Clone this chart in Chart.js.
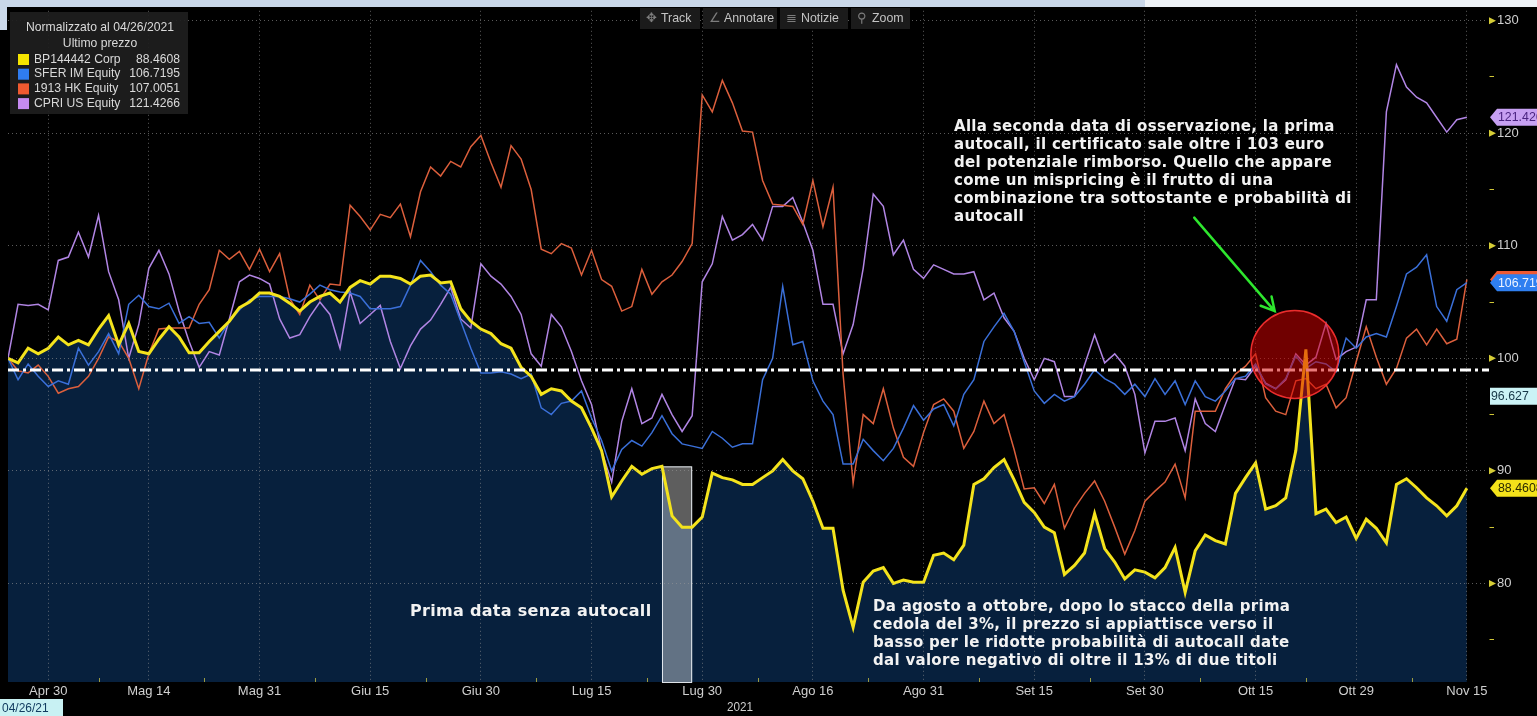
<!DOCTYPE html>
<html lang="it">
<head>
<meta charset="utf-8">
<title>BP144442 Corp e sottostanti - normalizzato al 04/26/2021</title>
<script src="https://cdn.jsdelivr.net/npm/chart.js@4.4.1/dist/chart.umd.min.js"></script>
<style>
  html, body { margin: 0; padding: 0; background: #000; overflow: hidden; }
  canvas { display: block; }
</style>
</head>
<body>
<canvas id="chart" width="1537" height="716"></canvas>
<script>
// Business days from 26 Apr to 15 Nov 2021 (one point per day)
const categories = [];
for (let d = new Date(Date.UTC(2021, 3, 26)); d <= new Date(Date.UTC(2021, 10, 15)); d.setUTCDate(d.getUTCDate() + 1)) {
  const wd = d.getUTCDay();
  if (wd !== 0 && wd !== 6) categories.push(d.toISOString().slice(0, 10));
}

// x axis labels
const tickDates = ['2021-04-30', '2021-05-14', '2021-05-31', '2021-06-15', '2021-06-30', '2021-07-15', '2021-07-30',
  '2021-08-16', '2021-08-31', '2021-09-15', '2021-09-30', '2021-10-15', '2021-10-29', '2021-11-15'];
const tickLabels = ['Apr 30', 'Mag 14', 'Mag 31', 'Giu 15', 'Giu 30', 'Lug 15', 'Lug 30',
  'Ago 16', 'Ago 31', 'Set 15', 'Set 30', 'Ott 15', 'Ott 29', 'Nov 15'];

// Normalized prices (26/04/2021 = 100)
const bp = [100.0, 99.6, 100.9, 100.4, 100.9, 101.9, 101.2, 101.6, 101.2, 102.6,
  103.8, 101.2, 103.1, 100.6, 100.4, 101.7, 102.8, 101.9, 100.5, 100.5,
  101.5, 102.4, 103.3, 104.5, 105.0, 105.8, 105.8, 105.5, 104.9, 104.2,
  105.0, 105.5, 105.8, 105.0, 106.3, 106.9, 106.6, 107.3, 107.3, 107.1,
  106.6, 107.3, 107.4, 106.7, 106.8, 104.4, 103.3, 102.6, 102.2, 101.3,
  100.9, 99.2, 98.4, 96.8, 97.3, 97.1, 96.2, 95.6, 93.8, 91.8,
  87.7, 89.1, 90.4, 89.7, 90.2, 90.4, 86.0, 85.0, 85.0, 85.9,
  89.8, 89.4, 89.2, 88.8, 88.8, 89.4, 90.0, 91.0, 90.0, 89.3,
  87.3, 84.9, 84.9, 79.4, 76.1, 80.1, 81.1, 81.4, 80.0, 80.3,
  80.1, 80.1, 82.5, 82.7, 82.1, 83.4, 88.8, 89.3, 90.3, 91.0,
  89.2, 87.2, 86.3, 85.0, 84.5, 80.8, 81.6, 82.7, 86.2, 83.1,
  81.9, 80.4, 81.2, 81.0, 80.5, 81.4, 83.2, 79.2, 82.9, 84.3,
  83.8, 83.5, 88.0, 89.4, 90.7, 86.6, 86.9, 87.6, 91.8, 100.8,
  86.2, 86.6, 85.4, 85.9, 84.0, 85.7, 84.9, 83.6, 88.8, 89.3,
  88.5, 87.6, 86.9, 86.0, 86.9, 88.4608];
const sfer = [100.0, 98.1, 99.5, 98.4, 97.5, 98.0, 97.7, 100.9, 99.4, 100.6,
  102.2, 100.4, 104.8, 105.6, 104.6, 104.4, 104.9, 103.1, 103.7, 103.1,
  103.2, 101.8, 103.3, 104.3, 105.2, 105.5, 105.5, 105.5, 105.3, 105.0,
  105.7, 106.5, 106.1, 105.9, 105.8, 105.5, 104.4, 104.4, 104.4, 104.6,
  106.5, 108.7, 107.7, 106.5, 105.7, 103.3, 100.9, 98.7, 98.7, 98.8,
  98.6, 98.2, 98.6, 95.6, 95.0, 96.0, 96.2, 97.1, 94.7, 92.7,
  90.0, 91.9, 92.7, 92.2, 93.4, 94.9, 93.3, 92.4, 92.2, 92.0,
  93.5, 92.9, 92.1, 92.4, 92.4, 98.1, 100.0, 106.4, 101.2, 101.5,
  98.0, 96.2, 95.0, 90.6, 90.6, 92.8, 91.8, 90.9, 92.0, 93.8,
  95.8, 94.5, 95.5, 95.9, 94.0, 96.8, 98.1, 101.5, 102.8, 104.0,
  102.4, 99.7, 97.1, 96.0, 96.8, 96.2, 96.6, 97.7, 99.0, 98.2,
  97.7, 96.8, 97.7, 96.6, 98.2, 96.8, 98.0, 95.9, 98.0, 96.6,
  96.2, 97.1, 98.2, 98.4, 99.5, 97.7, 97.3, 98.2, 100.2, 99.1,
  99.7, 99.5, 98.8, 101.8, 100.9, 101.9, 102.2, 101.9, 104.6, 107.5,
  108.1, 109.2, 104.6, 103.3, 106.1, 106.7195];
const hk = [100.0, 98.9, 98.7, 99.4, 98.4, 96.9, 97.3, 97.5, 98.4, 100.0,
  101.9, 101.5, 100.0, 97.3, 100.4, 102.6, 102.7, 102.7, 102.7, 104.8,
  106.1, 109.6, 108.8, 109.5, 107.9, 109.7, 107.7, 109.3, 105.3, 103.9,
  106.5, 105.2, 106.6, 106.5, 113.6, 112.6, 111.4, 112.8, 112.5, 113.7,
  110.8, 114.8, 117.0, 116.2, 117.5, 117.0, 118.8, 119.8, 117.4, 115.2,
  118.9, 117.7, 115.0, 109.7, 109.3, 110.2, 109.8, 107.4, 109.6, 107.0,
  106.4, 104.2, 104.6, 107.9, 105.7, 106.8, 107.4, 108.6, 110.2, 123.4,
  121.9, 124.7, 122.7, 120.2, 120.1, 115.8, 113.7, 113.6, 113.5, 111.9,
  115.8, 111.7, 115.2, 98.6, 88.9, 95.0, 94.2, 97.3, 93.8, 91.2,
  90.4, 93.4, 95.9, 96.4, 95.3, 92.0, 93.5, 96.2, 94.2, 95.0,
  91.9, 88.4, 88.5, 87.1, 88.8, 84.9, 86.7, 88.0, 89.1, 87.3,
  85.0, 82.6, 84.7, 87.3, 88.2, 89.0, 90.6, 87.6, 95.3, 95.3,
  95.3, 97.3, 98.6, 99.3, 100.4, 96.5, 95.3, 95.0, 98.0, 98.2,
  97.3, 97.7, 95.6, 96.5, 99.7, 102.8, 100.1, 97.7, 99.1, 101.8,
  102.6, 101.2, 102.6, 101.3, 101.7, 107.0051];
const cpri = [100.0, 104.8, 104.7, 104.8, 104.3, 108.7, 109.0, 111.2, 109.0, 112.7,
  107.7, 105.2, 100.0, 103.0, 108.0, 109.6, 107.5, 104.2, 101.5, 99.2,
  100.6, 100.3, 103.5, 106.8, 107.4, 107.1, 106.6, 103.5, 101.8, 102.1,
  103.7, 105.0, 103.9, 100.9, 105.9, 103.1, 103.9, 104.7, 101.5, 99.1,
  101.1, 102.6, 103.4, 104.8, 106.3, 103.5, 102.7, 108.4, 107.3, 106.6,
  105.5, 103.9, 100.4, 99.3, 103.9, 102.8, 100.6, 98.0, 95.9, 91.8,
  89.0, 94.4, 97.3, 94.2, 94.7, 96.8, 95.0, 93.5, 94.9, 106.8,
  108.4, 112.6, 110.5, 111.0, 111.9, 110.5, 113.5, 113.5, 114.3, 112.1,
  109.6, 104.8, 104.8, 100.4, 103.0, 108.0, 114.6, 113.5, 109.2, 110.5,
  107.9, 107.1, 108.3, 107.9, 107.5, 107.5, 107.7, 105.2, 105.8, 103.6,
  102.4, 100.0, 98.1, 100.0, 99.7, 96.6, 96.6, 99.4, 102.1, 99.6,
  100.4, 99.3, 96.8, 91.6, 94.4, 94.4, 94.7, 91.8, 96.4, 94.2,
  93.5, 95.9, 98.2, 98.1, 99.3, 97.8, 97.3, 98.1, 100.4, 99.4,
  100.1, 103.1, 99.9, 100.6, 101.0, 105.2, 105.2, 121.9, 126.1, 124.1,
  123.2, 122.7, 121.4, 120.1, 121.2, 121.4266];

// annotation anchors (data units)
const refLevel = 98.94;          // white dash-dot line
const crossValue = 96.627;       // cyan tag on the axis
const gapStart = 65, gapEnd = 68, gapTop = 90.4;   // "Prima data senza autocall"
const circleAt = [127.9, 100.35];
const arrowFrom = [117.9, 112.5], arrowTo = [125.9, 104.2];

const uiFont = '"Liberation Sans", Arial, sans-serif';
const noteFamily = '"DejaVu Sans", Verdana, sans-serif';

const xy = arr => arr.map((v, i) => ({ x: i, y: v }));
const tickIdx = tickDates.map(d => categories.indexOf(d));

// Bloomberg screen font is condensed: squeeze text horizontally
function narrow(ctx, txt, x, y, align, sx) {
  ctx.save();
  ctx.translate(x, y);
  ctx.scale(sx || 0.88, 1);
  ctx.textAlign = align;
  ctx.fillText(txt, 0, 0);
  ctx.restore();
}

const notes = {
  id: 'notes',
  afterDatasetDraw(chart, args) {
    if (args.index !== 0) return;
    // grey box over the fill, under the lines
    const { ctx, scales: { x, y } } = chart;
    const l = x.getPixelForValue(gapStart), r = x.getPixelForValue(gapEnd);
    const t = y.getPixelForValue(gapTop), b = chart.chartArea.bottom;
    ctx.save();
    ctx.fillStyle = 'rgba(255,255,255,0.37)';
    ctx.fillRect(l, t, r - l, b - t);
    ctx.strokeStyle = 'rgba(235,240,245,0.95)';
    ctx.lineWidth = 1;
    ctx.strokeRect(l + 0.5, t + 0.5, r - l - 1, b - t);
    ctx.restore();
  },
  afterDraw(chart) {
    const { ctx, chartArea: ca, scales: { x, y } } = chart;
    ctx.save();

    // left margin stays black
    ctx.fillStyle = '#000';
    ctx.fillRect(0, 0, ca.left, 699);

    // minor ticks on the time axis
    ctx.strokeStyle = '#9c9c42';
    ctx.lineWidth = 1;
    for (let k = 0; k < tickIdx.length - 1; k++) {
      const px = Math.round(x.getPixelForValue((tickIdx[k] + tickIdx[k + 1]) / 2)) + 0.5;
      ctx.beginPath(); ctx.moveTo(px, ca.bottom - 4); ctx.lineTo(px, ca.bottom); ctx.stroke();
    }

    // dash-dot reference line
    const ry = Math.round(y.getPixelForValue(refLevel));
    ctx.strokeStyle = '#ffffff';
    ctx.lineWidth = 3;
    ctx.setLineDash([11, 4, 3, 4]);
    ctx.beginPath(); ctx.moveTo(ca.left, ry); ctx.lineTo(ca.right, ry); ctx.stroke();
    ctx.setLineDash([]);

    // red circle
    const cx = x.getPixelForValue(circleAt[0]), cy = y.getPixelForValue(circleAt[1]);
    ctx.beginPath(); ctx.arc(cx, cy, 44, 0, Math.PI * 2);
    ctx.fillStyle = 'rgba(215,0,0,0.52)';
    ctx.fill();
    ctx.strokeStyle = 'rgba(255,50,50,0.9)';
    ctx.lineWidth = 1.5;
    ctx.stroke();

    // green arrow
    const ax0 = x.getPixelForValue(arrowFrom[0]), ay0 = y.getPixelForValue(arrowFrom[1]);
    const ax1 = x.getPixelForValue(arrowTo[0]), ay1 = y.getPixelForValue(arrowTo[1]);
    const ang = Math.atan2(ay1 - ay0, ax1 - ax0);
    ctx.strokeStyle = '#2ee62e';
    ctx.lineWidth = 2.5;
    ctx.lineCap = 'round';
    ctx.beginPath(); ctx.moveTo(ax0, ay0); ctx.lineTo(ax1, ay1);
    ctx.moveTo(ax1 - 15 * Math.cos(ang - 0.5), ay1 - 15 * Math.sin(ang - 0.5)); ctx.lineTo(ax1, ay1);
    ctx.lineTo(ax1 - 15 * Math.cos(ang + 0.5), ay1 - 15 * Math.sin(ang + 0.5));
    ctx.stroke();
    ctx.lineCap = 'butt';

    // annotation texts
    ctx.fillStyle = '#f2f2f2';
    ctx.textBaseline = 'middle';
    ctx.textAlign = 'left';
    ctx.letterSpacing = '0.3px';
    const block = (lines, x0, y0, size) => {
      ctx.font = 'bold ' + size + 'px ' + noteFamily;
      lines.forEach((s, i) => ctx.fillText(s, x0, y0 + i * 18));
    };
    block(['Alla seconda data di osservazione, la prima',
      'autocall, il certificato sale oltre i 103 euro',
      'del potenziale rimborso. Quello che appare',
      'come un mispricing è il frutto di una',
      'combinazione tra sottostante e probabilità di',
      'autocall'], 954, 127, 15);
    block(['Prima data senza autocall'], 410, 612, 16);
    block(['Da agosto a ottobre, dopo lo stacco della prima',
      'cedola del 3%, il prezzo si appiattisce verso il',
      'basso per le ridotte probabilità di autocall date',
      'dal valore negativo di oltre il 13% di due titoli'], 873, 607, 15);
    ctx.letterSpacing = '0px';

    // pointers at major y ticks
    ctx.fillStyle = '#d6cd36';
    y.ticks.forEach(t => {
      if (t.value % 10 !== 0) return;
      const py = y.getPixelForValue(t.value);
      ctx.beginPath(); ctx.moveTo(ca.right, py - 3.5); ctx.lineTo(ca.right + 7, py); ctx.lineTo(ca.right, py + 3.5); ctx.fill();
    });

    // last value tags on the right axis
    ctx.font = '13px ' + uiFont;
    const tag = (val, txt, bg, fg, pointed) => {
      const py = y.getPixelForValue(val), x0 = ca.right + 1;
      ctx.fillStyle = bg;
      ctx.beginPath();
      if (pointed) { ctx.moveTo(x0, py); ctx.lineTo(x0 + 7, py - 8.5); } else { ctx.moveTo(x0, py - 8.5); }
      ctx.lineTo(1537, py - 8.5); ctx.lineTo(1537, py + 8.5);
      if (pointed) ctx.lineTo(x0 + 7, py + 8.5); else ctx.lineTo(x0, py + 8.5);
      ctx.closePath(); ctx.fill();
      ctx.fillStyle = fg;
      narrow(ctx, txt, x0 + (pointed ? 8 : 1), py + 0.5, 'left', 0.95);
    };
    tag(hk[hk.length - 1], hk[hk.length - 1].toFixed(4), '#ef5a32', '#ffffff', true);
    tag(sfer[sfer.length - 1], sfer[sfer.length - 1].toFixed(4), '#2f7ff0', '#eef4ff', true);
    tag(cpri[cpri.length - 1], cpri[cpri.length - 1].toFixed(4), '#c7a0f2', '#4a2380', true);
    tag(crossValue, String(crossValue), '#cbf3f6', '#173848', false);
    tag(bp[bp.length - 1], bp[bp.length - 1].toFixed(4), '#f4e21a', '#2a2a00', true);

    // legend box
    ctx.fillStyle = 'rgba(30,30,30,0.93)';
    ctx.fillRect(10, 12, 178, 102);
    ctx.fillStyle = '#dadada';
    ctx.font = '13.5px ' + uiFont;
    narrow(ctx, 'Normalizzato al 04/26/2021', 100, 27, 'center', 0.9);
    narrow(ctx, 'Ultimo prezzo', 100, 43, 'center', 0.9);
    const rows = [['BP144442 Corp', bp, '#f5e400'], ['SFER IM Equity', sfer, '#2f7cf0'],
      ['1913 HK Equity', hk, '#f05a30'], ['CPRI US Equity', cpri, '#c58af0']];
    rows.forEach(([name, arr, col], i) => {
      const ry2 = 59 + i * 14.7;
      ctx.fillStyle = col;
      ctx.fillRect(18, ry2 - 5, 11, 11);
      ctx.fillStyle = '#dadada';
      narrow(ctx, name, 34, ry2, 'left', 0.9);
      narrow(ctx, arr[arr.length - 1].toFixed(4), 180, ry2, 'right', 0.9);
    });

    // toolbar
    ctx.font = '13px ' + uiFont;
    [['✥', 'Track', 640, 60], ['∠', 'Annotare', 703, 74], ['≣', 'Notizie', 780, 68], ['⚲', 'Zoom', 851, 59]].forEach(([ic, t, bx, bw]) => {
      ctx.fillStyle = '#1b1b1b';
      ctx.fillRect(bx, 8, bw, 21);
      ctx.fillStyle = '#7d7d7d';
      narrow(ctx, ic, bx + 6, 18.5, 'left', 1);
      ctx.fillStyle = '#c4c4c4';
      narrow(ctx, t, bx + 21, 18.5, 'left', 0.95);
    });

    // year and start date under the axis
    ctx.fillStyle = '#cfcfcf';
    narrow(ctx, '2021', 740, 707, 'center', 0.9);
    ctx.fillStyle = '#c8f1f3';
    ctx.fillRect(0, 699, 63, 17);
    ctx.fillStyle = '#123c60';
    narrow(ctx, '04/26/21', 2, 708, 'left', 0.92);

    // light strip at the top edge
    ctx.fillStyle = '#c9d7e9';
    ctx.fillRect(0, 0, 1145, 7);
    ctx.fillRect(0, 0, 7, 30);
    ctx.fillStyle = '#eef2f7';
    ctx.fillRect(1145, 0, 392, 7);

    ctx.restore();
  }
};

const ctx = document.getElementById('chart').getContext('2d');
const line = (label, data, color, width, order) => ({
  label, data: xy(data), borderColor: color, borderWidth: width,
  pointRadius: 0, fill: false, tension: 0, order
});

const chart = new Chart(ctx, {
  type: 'line',
  data: {
    datasets: [
      { label: 'area', data: xy(bp), borderWidth: 0, borderColor: 'rgba(0,0,0,0)', backgroundColor: '#07203d',
        fill: 'start', pointRadius: 0, tension: 0, order: 10 },
      line('CPRI US Equity', cpri, '#b185e4', 1.5, 4),
      line('1913 HK Equity', hk, '#dc5f3c', 1.5, 3),
      line('SFER IM Equity', sfer, '#3a6fd8', 1.5, 2),
      line('BP144442 Corp', bp, '#f4e31c', 3, 1)
    ]
  },
  options: {
    responsive: false,
    animation: false,
    devicePixelRatio: 1,
    layout: { padding: { left: 8, top: 8, right: 0, bottom: 0 }, autoPadding: false },
    plugins: { legend: { display: false }, tooltip: { enabled: false } },
    scales: {
      x: {
        type: 'linear', min: 0, max: 147.2,
        afterBuildTicks: s => { s.ticks = tickIdx.map(v => ({ value: v })); },
        afterFit: s => { s.height = 34; },
        ticks: {
          autoSkip: false, maxRotation: 0, padding: 2, color: '#cfcfcf',
          font: { family: uiFont, size: 13 },
          callback: v => tickLabels[tickIdx.indexOf(v)] || ''
        },
        grid: { color: 'rgba(150,150,150,0.6)', lineWidth: 1, drawTicks: false, z: 1 },
        border: { color: '#8e8e3c', width: 2, dash: [1, 3] }
      },
      y: {
        position: 'right', min: 71.24, max: 130.88,
        afterFit: s => { s.width = 48; },
        ticks: {
          stepSize: 5, includeBounds: false, padding: 3, color: '#cfcfcf',
          font: { family: uiFont, size: 13 },
          callback: v => (v % 10 === 0 ? String(v) : '')
        },
        grid: {
          z: 1, lineWidth: 1, tickLength: 5, tickColor: '#cfc636',
          color: c => (c.tick && c.tick.value % 10 === 0 ? 'rgba(150,150,150,0.6)' : 'rgba(0,0,0,0)')
        },
        border: { color: '#cfc636', width: 1.5, dash: [1, 3] }
      }
    }
  },
  plugins: [notes]
});
</script>
</body>
</html>
